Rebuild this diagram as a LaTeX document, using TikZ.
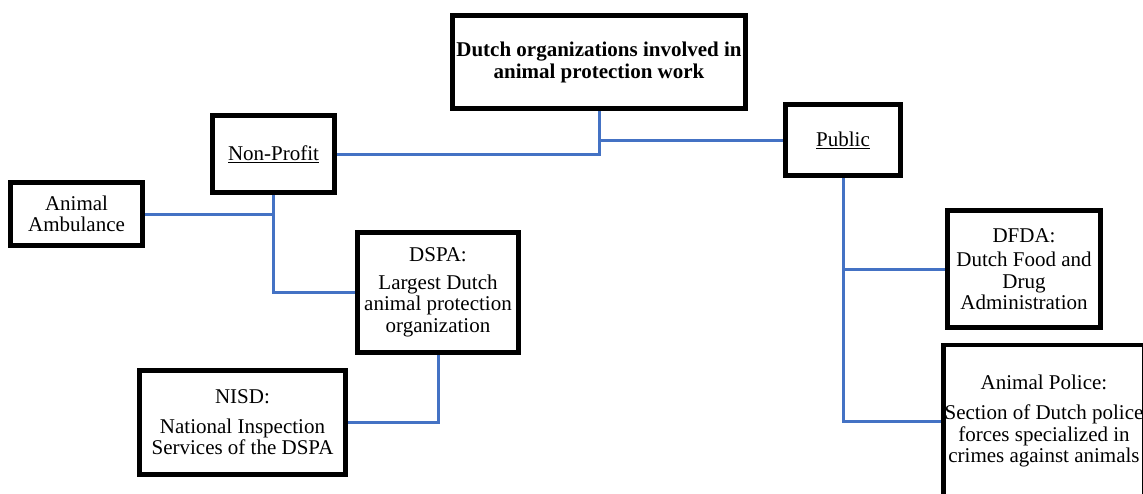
\documentclass[tikz,border=0pt]{standalone}
\usepackage{fontspec}
\setmainfont{Liberation Serif}
\usetikzlibrary{backgrounds}
\definecolor{connblue}{RGB}{68,114,196}
\tikzset{
  box/.style={draw=black, line width=4.5pt, fill=white, rectangle, align=center, inner sep=0pt,
    font=\fontsize{21}{21.5}\selectfont},
  conn/.style={draw=connblue, line width=3pt},
}
\begin{document}
\begin{tikzpicture}[x=1pt,y=-1pt]
\useasboundingbox (0,0) rectangle (1143,493);
\clip (0,0) rectangle (1143,493);
\node[box, minimum width=293pt, minimum height=93pt, font=\fontsize{21}{22}\selectfont\bfseries] (title) at (599,62) {Dutch organizations involved in\\animal protection work};
\node[box, minimum width=122pt, minimum height=77pt] (nonprofit) at (273.5,154) {\underline{Non-Profit}};
\node[box, minimum width=115pt, minimum height=71pt] (public) at (843,140) {\underline{Public}};
\node[box, minimum width=132pt, minimum height=63pt] (ambulance) at (76.5,214) {Animal\\Ambulance};
\node[box, minimum width=161pt, minimum height=120pt] (dspa) at (438,292.5) {DSPA:\\[6pt]Largest Dutch\\animal protection\\organization};
\node[box, minimum width=206pt, minimum height=104pt] (nisd) at (242.5,422.5) {NISD:\\[8pt]National Inspection\\Services of the DSPA};
\node[box, minimum width=153pt, minimum height=117pt] (dfda) at (1024,269) {DFDA:\\[3pt]Dutch Food and\\Drug\\Administration};
\node[box, minimum width=201pt, minimum height=152pt] (police) at (1044,421) {Animal Police:\\[9pt]Section of Dutch police\\forces specialized in\\crimes against animals};
\begin{scope}[on background layer]
\fill[white] (0,0) rectangle (1143,493);
\draw[conn] (nonprofit.east) -| (title.south);
\draw[conn] (title.south |- public.west) -- (public.west);
\draw[conn] (ambulance.east) -- (ambulance.east -| nonprofit.south);
\draw[conn] (nonprofit.south) |- (dspa.west);
\draw[conn] (dspa.south) |- (nisd.east);
\draw[conn] (public.south) |- (police.west);
\draw[conn] (public.south |- dfda.west) -- (dfda.west);
\end{scope}
\end{tikzpicture}
\end{document}
